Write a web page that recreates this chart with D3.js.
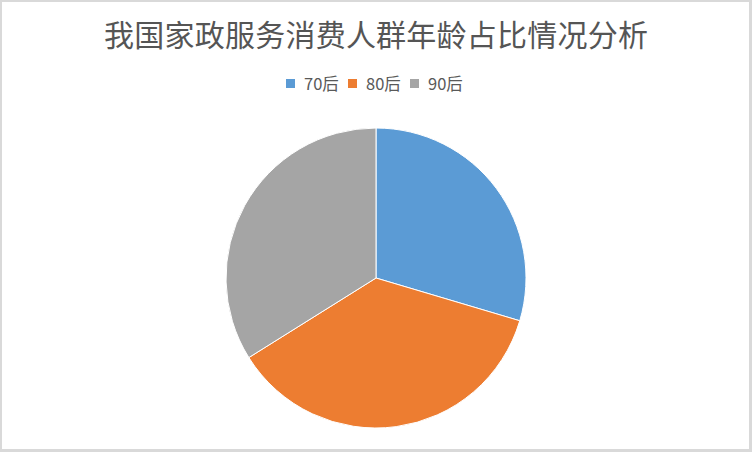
<!DOCTYPE html>
<html>
<head>
<meta charset="utf-8">
<script src="https://cdn.jsdelivr.net/npm/d3@7"></script>
<style>
  html, body { margin: 0; padding: 0; background: #d9d9d9; }
  svg { display: block; }
</style>
</head>
<body>
<div id="chart"></div>
<script>
// chart data
const categories = ["70后", "80后", "90后"];
const shares = [29.6, 36.5, 33.9];
const colors = ["#5b9bd5", "#ed7d31", "#a5a5a5"];
const title = "我国家政服务消费人群年龄占比情况分析";

const width = 752;
const height = 452;

const svg = d3
  .select("#chart")
  .append("svg")
  .attr("width", width)
  .attr("height", height);

// white chart area inside the grey frame
svg
  .append("rect")
  .attr("x", 2)
  .attr("y", 2)
  .attr("width", width - 5)
  .attr("height", height - 5)
  .attr("fill", "#ffffff");

svg
  .append("text")
  .attr("x", 376)
  .attr("y", 46)
  .attr("text-anchor", "middle")
  .attr("font-family", "'Noto Sans CJK SC', sans-serif")
  .attr("font-size", 30)
  .attr("textLength", 544)
  .attr("lengthAdjust", "spacing")
  .attr("fill", "#555555")
  .text(title);

// legend
const legend = svg.append("g").attr("transform", "translate(286,84)");
const legendX = d3.scaleOrdinal().domain(categories).range([0, 62, 124]);

const items = legend
  .selectAll("g")
  .data(categories)
  .enter()
  .append("g")
  .attr("transform", (d) => `translate(${legendX(d)},0)`);

items
  .append("rect")
  .attr("x", 0)
  .attr("y", -5)
  .attr("width", 9)
  .attr("height", 9)
  .attr("fill", (d, i) => colors[i]);

items
  .append("text")
  .attr("x", 18)
  .attr("y", 6)
  .attr("font-family", "'Noto Sans CJK SC', sans-serif")
  .attr("font-size", 16.5)
  .attr("fill", "#595959")
  .text((d) => d);

// pie
const radius = 150;
const pie = d3.pie().sort(null).value((d) => d);
const arc = d3.arc().innerRadius(0).outerRadius(radius);

svg
  .append("g")
  .attr("transform", "translate(376,278)")
  .selectAll("path")
  .data(pie(shares))
  .enter()
  .append("path")
  .attr("d", arc)
  .attr("fill", (d, i) => colors[i])
  .attr("stroke", "#ffffff")
  .attr("stroke-width", 1);
</script>
</body>
</html>
